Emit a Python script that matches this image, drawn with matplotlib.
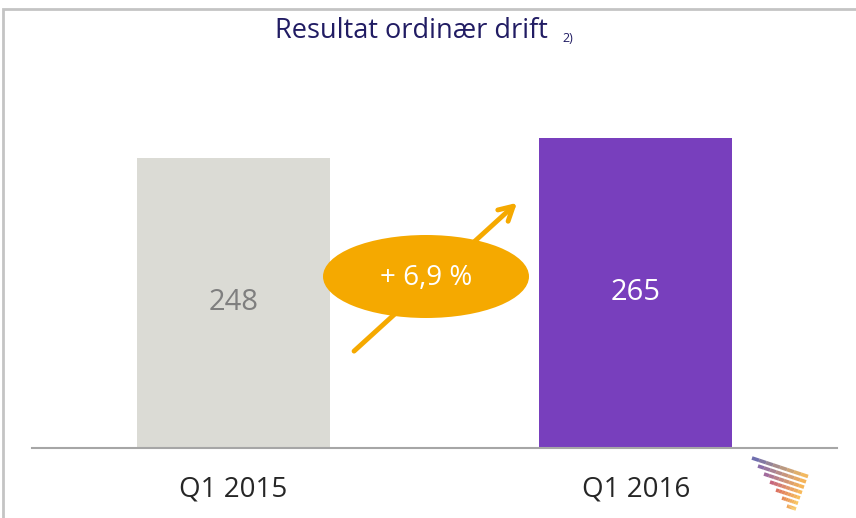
import numpy as np
import matplotlib.pyplot as plt
from matplotlib.patches import Ellipse, Rectangle
from matplotlib.lines import Line2D
from matplotlib.colors import to_rgb

categories = ['Q1 2015', 'Q1 2016']
values = [248, 265]
bar_colors = ['#dbdbd5', '#783fbd']
label_colors = ['#7f7f7f', 'white']
change_label = '+ 6,9 %'
title = 'Resultat ordinær drift'

W, H = 856, 518
plt.rcParams['font.family'] = ['Open Sans', 'DejaVu Sans']

fig = plt.figure(figsize=(W / 100, H / 100), dpi=100)

def fx(x):
    return x / W

def fy(y):
    return 1 - y / H

# frame around the slide (only top and left edges visible)
fig.patches.append(Rectangle((fx(3), fy(H + 20)), 1.5, fy(9) - fy(H + 20),
                             transform=fig.transFigure, fill=False,
                             edgecolor='#c4c4c4', linewidth=2, zorder=0))

ax = fig.add_axes([fx(32), fy(447.5), fx(837) - fx(32), fy(60) - fy(447.5)])
x = range(len(categories))
bars = ax.bar(x, values, width=0.48, color=bar_colors, zorder=2)
ax.set_xlim(-0.5, 1.5)
ax.set_ylim(0, 332)
for b, v, c in zip(bars, values, label_colors):
    ax.text(b.get_x() + b.get_width() / 2, v / 2, str(v), ha='center', va='center',
            fontsize=21, color=c, zorder=3)

for s in ['top', 'right', 'left']:
    ax.spines[s].set_visible(False)
ax.spines['bottom'].set_color('#a6a6a6')
ax.spines['bottom'].set_linewidth(1.5)
ax.set_yticks([])
ax.set_xticks(list(x))
ax.set_xticklabels(categories, fontsize=20, color='#262626')
ax.tick_params(axis='x', length=0, pad=20)

# growth arrow and ellipse
ax.annotate('', xy=(fx(519), fy(201)), xytext=(fx(352), fy(353)),
            xycoords='figure fraction', textcoords='figure fraction',
            arrowprops=dict(arrowstyle='->,head_length=1.0,head_width=0.55',
                            color='#f5a900', lw=3.5), zorder=4)
ell = Ellipse((fx(426), fy(276.5)), fx(206), 83 / H, transform=fig.transFigure,
              facecolor='#f5a900', edgecolor='none', zorder=5)
fig.patches.append(ell)
fig.text(fx(426), fy(278), change_label, ha='center', va='center',
         fontsize=20, color='white', zorder=6)

# title
fig.text(fx(411), fy(31), title, ha='center', va='center', fontsize=19.5, color='#211c63')
fig.text(fx(562), fy(38), '2)', ha='left', va='center', fontsize=9, color='#211c63')

# small striped logo
left_pts = [(752, 458), (758, 466), (764, 474), (770, 482), (776, 490), (782, 498), (787, 506)]
right_x = [808, 806, 804, 802, 800, 798, 796]
left_cols = ['#4b4a9a', '#6e4a95', '#8a4684', '#b8405e', '#d4503a', '#e06a2a', '#eb8a25']
right_cols = ['#f0a838', '#f2a030', '#f3a22e', '#f5a830', '#f6b034', '#f7b838', '#f8c040']
for (x0, y0), x1, c0, c1 in zip(left_pts, right_x, left_cols, right_cols):
    y1 = y0 + 0.33 * (x1 - x0)
    xs = np.linspace(x0, x1, 9)
    ys = np.linspace(y0, y1, 9)
    a, b = np.array(to_rgb(c0)), np.array(to_rgb(c1))
    for k in range(8):
        t = k / 7
        fig.lines.append(Line2D([fx(xs[k]), fx(xs[k + 1])], [fy(ys[k]), fy(ys[k + 1])],
                                transform=fig.transFigure, color=a * (1 - t) + b * t,
                                lw=2.6, alpha=0.8, solid_capstyle='butt'))

fig.savefig('out.png', dpi=100)
